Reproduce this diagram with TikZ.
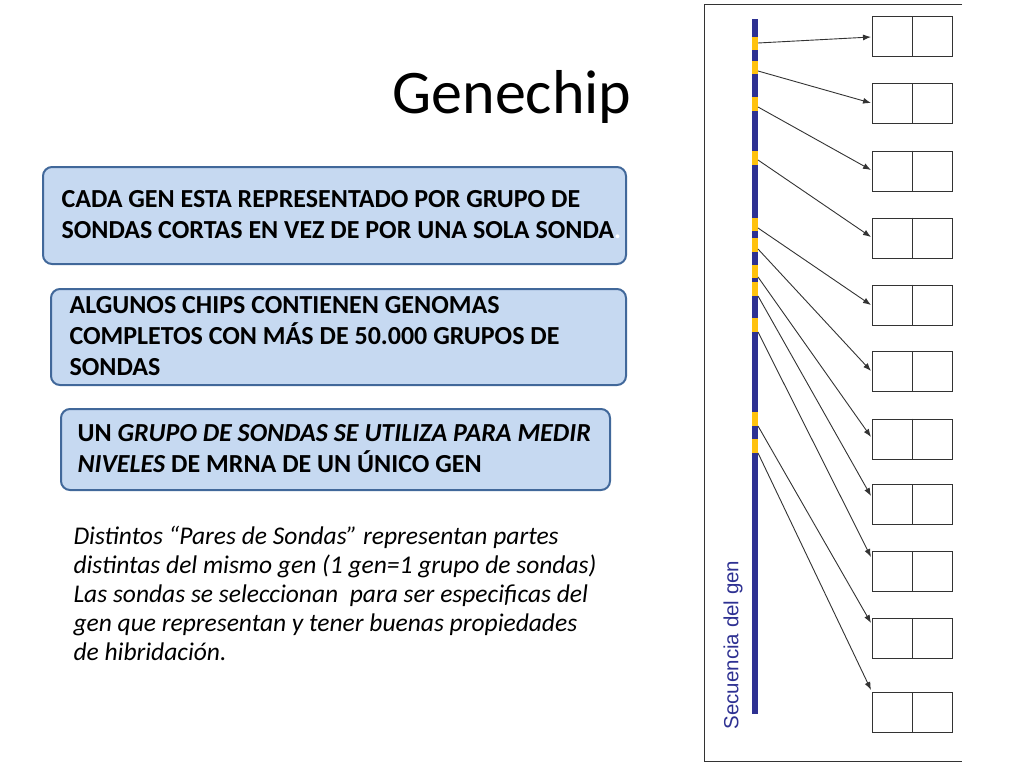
\documentclass[tikz,border=0pt]{standalone}
\usepackage{fontspec}
\setmainfont{Carlito}
\newfontfamily\arialfont{Liberation Sans}
\usetikzlibrary{arrows.meta,positioning}
\definecolor{boxfill}{HTML}{C6D9F1}
\definecolor{boxline}{HTML}{41689A}
\definecolor{genblue}{HTML}{2E3192}
\definecolor{genyellow}{HTML}{FFC20E}
\begin{document}
\begin{tikzpicture}[x=1pt,y=-1pt,
    infobox/.style={rectangle,rounded corners=9pt,draw=boxline,line width=2pt,fill=boxfill,
      anchor=north west,inner sep=0pt},
    boxtext/.style={anchor=west,align=left,font=\bfseries\fontsize{26}{31}\selectfont},
    probe/.style={rectangle,draw=black!80,thick,minimum width=80pt,minimum height=40pt,inner sep=0pt},
    connector/.style={-{Latex[length=8pt,width=6pt]},black!80,line width=0.9pt}]
    \useasboundingbox (0,0) rectangle (1024,768);
    % title and text boxes
    \node (title) at (512,97) {\fontsize{62}{70}\selectfont Genechip};
    \node (cada) [infobox,minimum width=583pt,minimum height=97pt] at (42,166) {};
    \node (cadatext) [boxtext] at (58,214.5)
      {CADA GEN ESTA REPRESENTADO POR GRUPO DE\\SONDAS CORTAS EN VEZ DE POR UNA SOLA SONDA\textcolor{white}{.}};
    \node (chips) [infobox,minimum width=575pt,minimum height=96pt] at (50,288) {};
    \node (chipstext) [boxtext] at (66,336)
      {ALGUNOS CHIPS CONTIENEN GENOMAS\\COMPLETOS CON MÁS DE 50.000 GRUPOS DE\\SONDAS};
    \node (grupo) [infobox,minimum width=549pt,minimum height=81pt] at (60,408) {};
    \node (grupotext) [boxtext] at (74,448.5)
      {UN \textit{GRUPO DE SONDAS SE UTILIZA PARA MEDIR}\\\textit{NIVELES} DE MRNA DE UN ÚNICO GEN};
    \node (pares) [anchor=north west,align=left,font=\itshape\fontsize{25.5}{29}\selectfont] at (70,523)
      {Distintos “Pares de Sondas” representan partes\\distintas del mismo gen (1 gen=1 grupo de sondas)\\Las sondas se seleccionan\ \ para ser especificas del\\gen que representan y tener buenas propiedades\\de hibridación.};
    % right panel
    \draw[black!80,thick] (962,4) -- (704,4) -- (704,761) -- (962,761);
    \fill[genblue] (752,19) rectangle (758,714);
    \foreach \ya/\yb in {37/50,61/74,97/111,151/165,218/231,238/252,265/278,282/296,318/332,412/426,439/453}
      \fill[genyellow] (752,\ya) rectangle (758,\yb);
    \node (seq) [rotate=90,text=genblue,font=\arialfont\fontsize{20.5}{22}\selectfont] at (733,645) {Secuencia del gen};
    \foreach \i/\yc in {1/36.5,2/103.5,3/171,4/238,5/305,6/371.5,7/439,8/504.5,9/571.5,10/638.5,11/712.5} {
      \node (b\i) [probe,anchor=west] at (872,\yc) {};
      \draw[black!80,thick] (b\i.north) -- (b\i.south);
    }
    \foreach \i/\ys/\yt in {1/43/37,2/71/103,3/107/170,4/160/237,5/228/305,6/249/371,7/277/437,8/296/496,9/332/557,10/426/623,11/453/690} {
      \coordinate (s\i) at (758,\ys);
      \coordinate (t\i) at (871,\yt);
      \draw[connector] (s\i) -- (t\i);
    }
\end{tikzpicture}
\end{document}
